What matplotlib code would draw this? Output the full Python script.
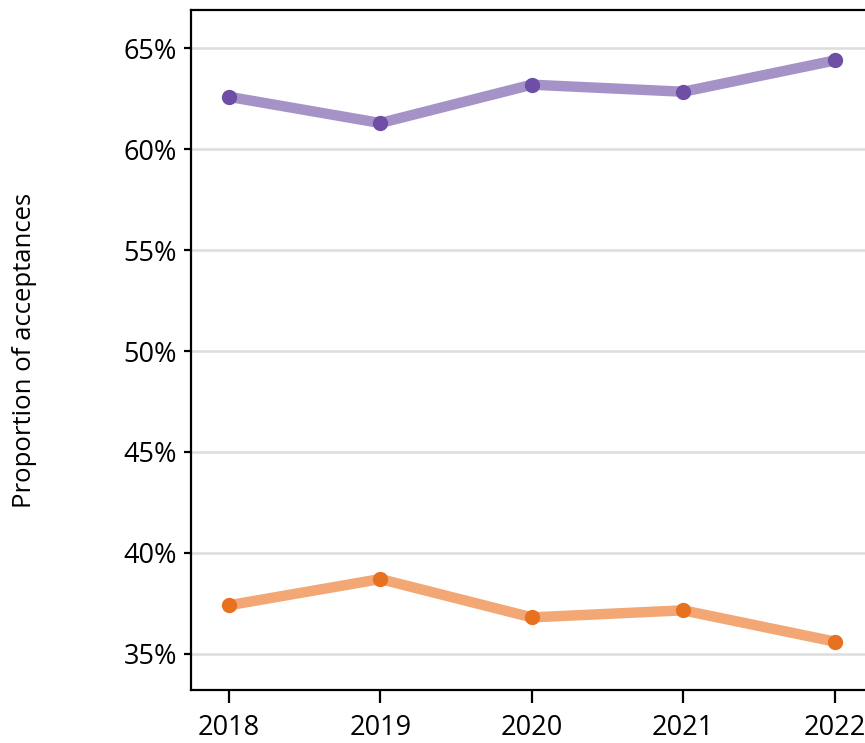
import matplotlib.pyplot as plt
from matplotlib.ticker import FuncFormatter

years = [2018, 2019, 2020, 2021, 2022]
purple_vals = [62.6, 61.3, 63.2, 62.85, 64.4]
orange_vals = [37.4, 38.7, 36.8, 37.15, 35.6]
y_ticks = [35, 40, 45, 50, 55, 60, 65]


def main():
    plt.rcParams["font.family"] = ["Open Sans", "DejaVu Sans"]

    fig = plt.figure(figsize=(8.65, 7.43), dpi=100)
    ax = fig.add_axes([0.2208, 0.0713, 0.7792, 0.9152])

    ax.plot(years, purple_vals, color="#a593c8", linewidth=7.5, solid_capstyle="butt", zorder=3)
    ax.plot(years, purple_vals, "o", color="#6f4fa6", markersize=10, zorder=4)
    ax.plot(years, orange_vals, color="#f2a774", linewidth=7.5, solid_capstyle="butt", zorder=3)
    ax.plot(years, orange_vals, "o", color="#e8711f", markersize=10, zorder=4)

    ax.set_xlim(2017.75, 2022.2)
    ax.set_ylim(33.2, 66.9)
    ax.set_xticks(years)
    ax.set_yticks(y_ticks)
    ax.yaxis.set_major_formatter(FuncFormatter(lambda v, _: f"{v:.0f}%"))

    ax.grid(axis="y", color="#dddddd", linewidth=1.8, zorder=0)
    ax.set_axisbelow(True)
    for side in ["top", "left", "bottom"]:
        ax.spines[side].set_linewidth(1.6)
    ax.spines["right"].set_visible(False)
    ax.tick_params(axis="both", labelsize=19.5, width=1.6, direction="out")
    ax.tick_params(axis="y", length=5, pad=5)
    ax.tick_params(axis="x", length=9, pad=8)

    ax.set_ylabel("Proportion of acceptances", fontsize=18.5, labelpad=62)

    fig.savefig("out.png", dpi=100)


if __name__ == "__main__":
    main()
